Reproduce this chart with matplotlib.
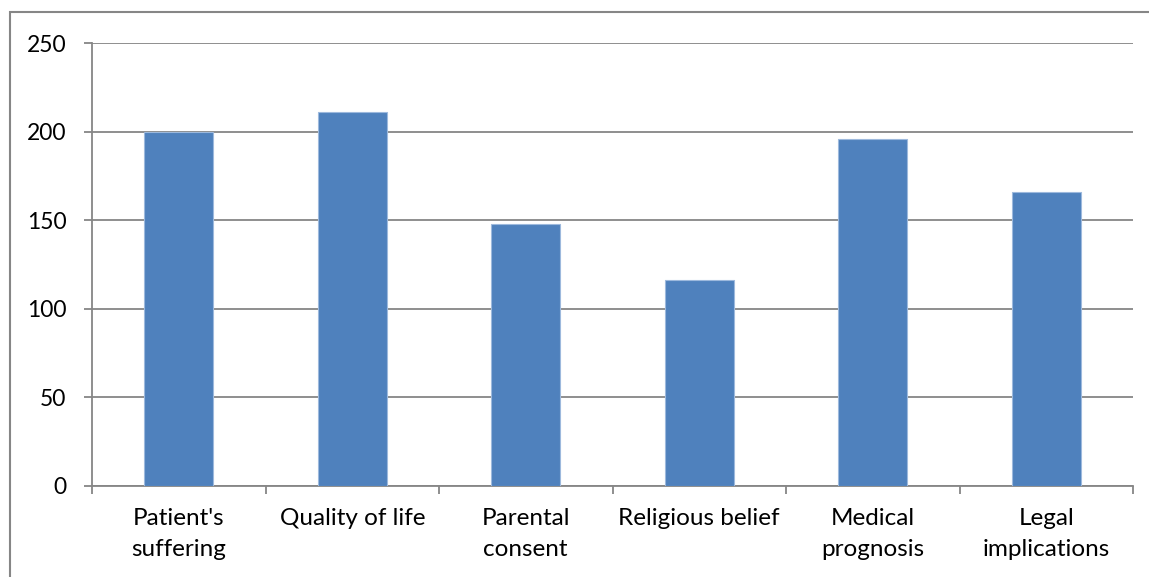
import matplotlib
matplotlib.use("Agg")
import matplotlib.pyplot as plt
from matplotlib.patches import Rectangle
import numpy as np

categories = ["Patient's\nsuffering", "Quality of life", "Parental\nconsent",
              "Religious belief", "Medical\nprognosis", "Legal\nimplications"]
values = [200, 211, 148, 116, 196, 166]
y_ticks = [0, 50, 100, 150, 200, 250]

plt.rcParams['font.family'] = ['Lato', 'DejaVu Sans']

W, H = 1149, 577
fig = plt.figure(figsize=(W / 100, H / 100), dpi=100)
ax = fig.add_axes([92 / W, 1 - 486 / H, (1133 - 92) / W, (486 - 43) / H])

grey = "#868686"
bar_color = "#4F81BD"

x = np.arange(len(categories))
ax.bar(x, values, width=0.4, color=bar_color, edgecolor="#9DB9DD", linewidth=0.8, zorder=3)

ax.set_xlim(-0.5, len(categories) - 0.5)
ax.set_ylim(0, 250)
ax.set_yticks(y_ticks)
ax.set_yticklabels([str(v) for v in y_ticks], fontsize=16.5)
ax.yaxis.grid(True, color=grey, linewidth=1.3, zorder=0)
ax.set_axisbelow(True)

# category labels centred under bars, tick marks at category boundaries
ax.set_xticks(x)
ax.set_xticklabels(categories, fontsize=17.5, linespacing=1.6)
ax.tick_params(axis='x', which='major', length=0, pad=16)
ax.set_xticks(np.arange(-0.5, len(categories)), minor=True)
ax.tick_params(axis='x', which='minor', length=5.5, width=1.3, color=grey)
ax.tick_params(axis='y', length=5.5, width=1.3, color=grey, pad=13)

for side in ("top", "right"):
    ax.spines[side].set_visible(False)
for side in ("left", "bottom"):
    ax.spines[side].set_color(grey)
    ax.spines[side].set_linewidth(1.3)

# outer chart border
fig.patches.append(Rectangle((10 / W, -0.05), 1.2, 1 - 12 / H + 0.05,
                             transform=fig.transFigure, fill=False,
                             edgecolor=grey, linewidth=1.5))

fig.savefig("out.png", dpi=100)
